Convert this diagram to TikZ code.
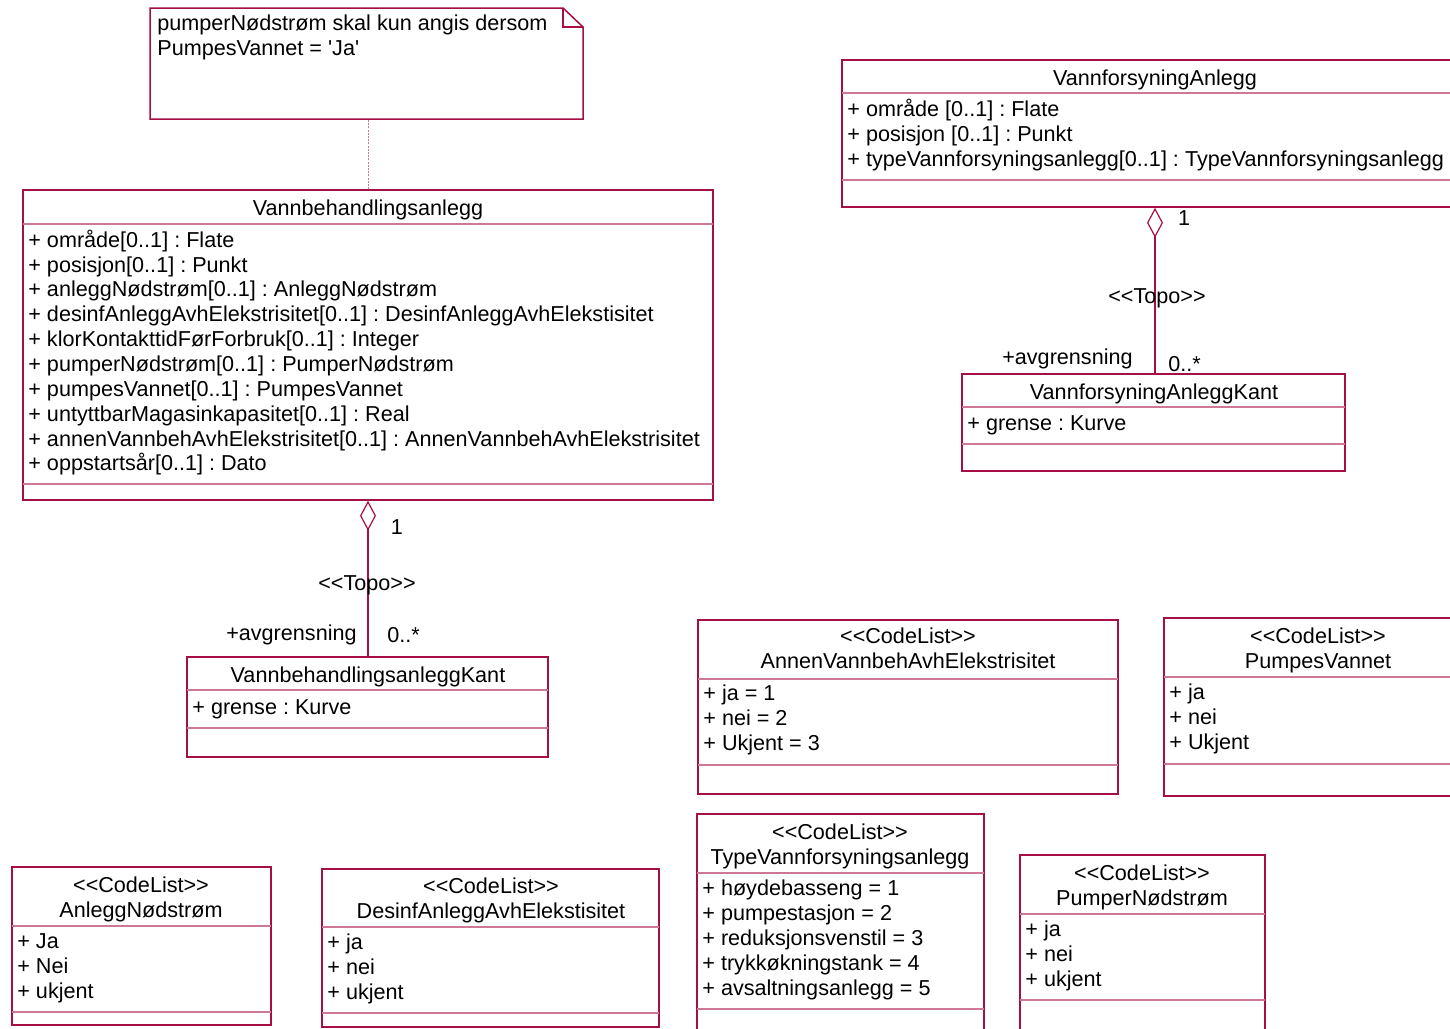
\documentclass[tikz,border=0pt]{standalone}
\usepackage{fontspec}
\setmainfont{Liberation Sans}
\usetikzlibrary{arrows.meta,fit}
\definecolor{bord}{RGB}{165,15,70}
\definecolor{sepc}{RGB}{205,120,150}
\newcommand\fnt{\fontsize{10.8pt}{12.5pt}\selectfont\frenchspacing}
\newcommand\stereo[1]{<\kern0pt<#1>\kern0pt>}
\begin{document}
\begin{tikzpicture}[x=0.5pt,y=-0.5pt,
  box/.style={draw=bord, line width=0.75pt, inner sep=0pt},
  sepl/.style={draw=sepc, line width=0.6pt},
  txt/.style={inner sep=0pt, anchor=base west, font=\fnt},
  ttl/.style={inner sep=0pt, anchor=base, font=\fnt},
  lblr/.style={inner sep=0pt, anchor=base east, font=\fnt},
  agg/.style={draw=bord, line width=0.6pt, {Diamond[open, length=15pt, width=8pt, line width=0.6pt]}-},
  notelink/.style={draw=sepc, line width=0.5pt, dash pattern=on 1pt off 0.6pt}]
\clip (0,0) rectangle (1450,1028);
\fill[white] (0,0) rectangle (1450,1028);

% Note
\node[inner sep=0pt, fit={(150,8) (583,119)}] (note) {};
\draw[box] (150,8) -- (563,8) -- (583,27) -- (583,119) -- (150,119) -- cycle;
\draw[box] (563,8) -- (563,27) -- (583,27);
\node[txt] (note-t1) at (157,30) {pumperNødstrøm skal kun angis dersom};
\node[txt] (note-t2) at (157,55) {PumpesVannet = \textquotesingle Ja\textquotesingle};

% Vannbehandlingsanlegg
\node[box, fit={(23,190) (713,500)}] (vb) {};
\draw[sepl] (23,224) -- (713,224);
\draw[sepl] (23,484) -- (713,484);
\node[ttl] (vb-t) at (368,215) {Vannbehandlingsanlegg};
\node[txt] (vb-a1) at (28,247) {+ område[0..1] : Flate};
\node[txt] (vb-a2) at (28,272) {+ posisjon[0..1] : Punkt};
\node[txt] (vb-a3) at (28,296) {+ anleggNødstrøm[0..1] : AnleggNødstrøm};
\node[txt] (vb-a4) at (28,321) {+ desinfAnleggAvhElekstrisitet[0..1] : DesinfAnleggAvhElekstisitet};
\node[txt] (vb-a5) at (28,346) {+ klorKontakttidFørForbruk[0..1] : Integer};
\node[txt] (vb-a6) at (28,371) {+ pumperNødstrøm[0..1] : PumperNødstrøm};
\node[txt] (vb-a7) at (28,396) {+ pumpesVannet[0..1] : PumpesVannet};
\node[txt] (vb-a8) at (28,421) {+ untyttbarMagasinkapasitet[0..1] : Real};
\node[txt] (vb-a9) at (28,446) {+ annenVannbehAvhElekstrisitet[0..1] : AnnenVannbehAvhElekstrisitet};
\node[txt] (vb-a10) at (28,470) {+ oppstartsår[0..1] : Dato};

\draw[notelink] (vb.north) -- (vb.north |- note.south);

% VannbehandlingsanleggKant
\node[box, fit={(187,657) (548,757)}] (vbk) {};
\draw[sepl] (187,690) -- (548,690);
\draw[sepl] (187,728) -- (548,728);
\node[ttl] (vbk-t) at (368,682) {VannbehandlingsanleggKant};
\node[txt] (vbk-a1) at (192,714) {+ grense : Kurve};

\draw[agg] (vb.south) -- (vb.south |- vbk.north);
\node[ttl] (vb-m1) at (397,534) {1};
\node[ttl] (vb-st) at (367,590) {\stereo{Topo}};
\node[lblr] (vb-role) at (357,640) {+avgrensning};
\node[txt] (vb-m2) at (387,642) {0..*};

% VannforsyningAnlegg
\node[box, fit={(842,60) (1468,207)}] (vf) {};
\draw[sepl] (842,93) -- (1468,93);
\draw[sepl] (842,180) -- (1468,180);
\node[ttl] (vf-t) at (1155,85) {VannforsyningAnlegg};
\node[txt] (vf-a1) at (847,116) {+ område [0..1] : Flate};
\node[txt] (vf-a2) at (847,141) {+ posisjon [0..1] : Punkt};
\node[txt] (vf-a3) at (847,166) {+ typeVannforsyningsanlegg[0..1] : TypeVannforsyningsanlegg};

% VannforsyningAnleggKant
\node[box, fit={(962,374) (1345,471)}] (vfk) {};
\draw[sepl] (962,407) -- (1345,407);
\draw[sepl] (962,444) -- (1345,444);
\node[ttl] (vfk-t) at (1154,399) {VannforsyningAnleggKant};
\node[txt] (vfk-a1) at (967,430) {+ grense : Kurve};

\draw[agg] (vf.south) -- (vf.south |- vfk.north);
\node[ttl] (vf-m1) at (1184,225) {1};
\node[ttl] (vf-st) at (1157,303) {\stereo{Topo}};
\node[lblr] (vf-role) at (1133,364) {+avgrensning};
\node[txt] (vf-m2) at (1168,371) {0..*};

% AnnenVannbehAvhElekstrisitet
\node[box, fit={(698,620) (1118,794)}] (an) {};
\draw[sepl] (698,679) -- (1118,679);
\draw[sepl] (698,765) -- (1118,765);
\node[ttl] (an-s) at (908,643) {\stereo{CodeList}};
\node[ttl] (an-t) at (908,668) {AnnenVannbehAvhElekstrisitet};
\node[txt] (an-a1) at (703,700) {+ ja = 1};
\node[txt] (an-a2) at (703,725) {+ nei = 2};
\node[txt] (an-a3) at (703,750) {+ Ukjent = 3};

% PumpesVannet
\node[box, fit={(1164,618) (1472,796)}] (pv) {};
\draw[sepl] (1164,677) -- (1472,677);
\draw[sepl] (1164,764) -- (1472,764);
\node[ttl] (pv-s) at (1318,643) {\stereo{CodeList}};
\node[ttl] (pv-t) at (1318,668) {PumpesVannet};
\node[txt] (pv-a1) at (1169,699) {+ ja};
\node[txt] (pv-a2) at (1169,724) {+ nei};
\node[txt] (pv-a3) at (1169,749) {+ Ukjent};

% AnleggNødstrøm
\node[box, fit={(12,867) (271,1025)}] (ag) {};
\draw[sepl] (12,926) -- (271,926);
\draw[sepl] (12,1012) -- (271,1012);
\node[ttl] (ag-s) at (141,892) {\stereo{CodeList}};
\node[ttl] (ag-t) at (141,917) {AnleggNødstrøm};
\node[txt] (ag-a1) at (17,948) {+ Ja};
\node[txt] (ag-a2) at (17,973) {+ Nei};
\node[txt] (ag-a3) at (17,998) {+ ukjent};

% DesinfAnleggAvhElekstisitet
\node[box, fit={(322,869) (659,1027)}] (de) {};
\draw[sepl] (322,927) -- (659,927);
\draw[sepl] (322,1013) -- (659,1013);
\node[ttl] (de-s) at (491,893) {\stereo{CodeList}};
\node[ttl] (de-t) at (491,918) {DesinfAnleggAvhElekstisitet};
\node[txt] (de-a1) at (327,949) {+ ja};
\node[txt] (de-a2) at (327,974) {+ nei};
\node[txt] (de-a3) at (327,999) {+ ukjent};

% TypeVannforsyningsanlegg
\node[box, fit={(697,814) (984,1040)}] (tv) {};
\draw[sepl] (697,873) -- (984,873);
\draw[sepl] (697,1009) -- (984,1009);
\node[ttl] (tv-s) at (840,839) {\stereo{CodeList}};
\node[ttl] (tv-t) at (840,864) {TypeVannforsyningsanlegg};
\node[txt] (tv-a1) at (702,895) {+ høydebasseng = 1};
\node[txt] (tv-a2) at (702,920) {+ pumpestasjon = 2};
\node[txt] (tv-a3) at (702,945) {+ reduksjonsvenstil = 3};
\node[txt] (tv-a4) at (702,970) {+ trykkøkningstank = 4};
\node[txt] (tv-a5) at (702,995) {+ avsaltningsanlegg = 5};

% PumperNødstrøm
\node[box, fit={(1020,855) (1265,1040)}] (pn) {};
\draw[sepl] (1020,914) -- (1265,914);
\draw[sepl] (1020,1000) -- (1265,1000);
\node[ttl] (pn-s) at (1142,880) {\stereo{CodeList}};
\node[ttl] (pn-t) at (1142,905) {PumperNødstrøm};
\node[txt] (pn-a1) at (1025,936) {+ ja};
\node[txt] (pn-a2) at (1025,961) {+ nei};
\node[txt] (pn-a3) at (1025,986) {+ ukjent};
\end{tikzpicture}
\end{document}
